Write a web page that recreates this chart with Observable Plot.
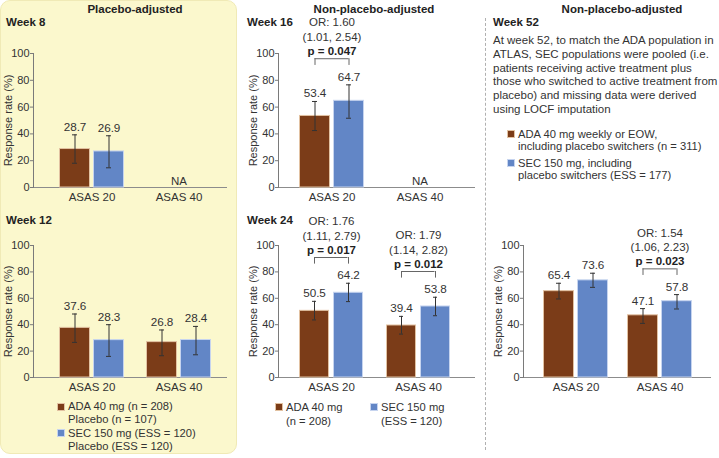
<!DOCTYPE html>
<html><head><meta charset="utf-8">
<script src="https://cdn.jsdelivr.net/npm/d3@7"></script>
<script src="https://cdn.jsdelivr.net/npm/@observablehq/plot@0.6"></script>
<style>
body{margin:0;background:#fff;font-family:"Liberation Sans",Arial,sans-serif;color:#333;}
#root{position:relative;width:719px;height:458px;overflow:hidden;}
.abs{position:absolute;white-space:nowrap;}
.hdr{font-weight:bold;font-size:11.5px;line-height:12px;text-align:center;color:#222;}
.wk{font-weight:bold;font-size:11.5px;line-height:12px;color:#222;}
.txt{font-size:11.5px;line-height:13.8px;color:#333;}
.leg{font-size:11.2px;color:#333;}
#yellow{position:absolute;left:0;top:0;width:237px;height:454px;background:#fbf8cd;border:1px solid #f0eab6;border-radius:10px;box-sizing:border-box;}
#dash{position:absolute;left:485px;top:18px;height:432px;border-left:1px dashed #b0b0b0;}
.panel{position:absolute;}
</style></head><body>
<div id="root">
  <div id="yellow"></div>
  <div id="dash"></div>
  <div class="abs hdr" style="left:35px;top:3px;width:200px;">Placebo-adjusted</div>
  <div class="abs hdr" style="left:274px;top:3px;width:200px;">Non-placebo-adjusted</div>
  <div class="abs hdr" style="left:522px;top:3px;width:200px;">Non-placebo-adjusted</div>
  <div class="abs wk" style="left:6px;top:16px;">Week 8</div>
  <div class="abs wk" style="left:6px;top:214px;">Week 12</div>
  <div class="abs wk" style="left:247px;top:16px;">Week 16</div>
  <div class="abs wk" style="left:247px;top:214px;">Week 24</div>
  <div class="abs wk" style="left:493px;top:16px;">Week 52</div>
  <div class="abs txt" style="left:493px;top:34px;">At week 52, to match the ADA population in<br>ATLAS, SEC populations were pooled (i.e.<br>patients receiving active treatment plus<br>those who switched to active treatment from<br>placebo) and missing data were derived<br>using LOCF imputation</div>
  <div id="pA" class="panel" style="left:0;top:0;"></div>
  <div id="pB" class="panel" style="left:0;top:192px;"></div>
  <div id="pC" class="panel" style="left:245px;top:0;"></div>
  <div id="pD" class="panel" style="left:245px;top:192px;"></div>
  <div id="pE" class="panel" style="left:490px;top:192px;"></div>
  <div id="legB"></div><div id="legD"></div><div id="legE"></div>
</div>
<script>
// ---------- data ----------
const groups = ["ASAS 20", "ASAS 40"];
const treatments = ["ADA", "SEC"];
const yTicks = [0, 20, 40, 60, 80, 100];
const yLabel = "Response rate (%)";
// [group, treatment, response rate, lower CI, upper CI]
const week8Rows = [
  ["ASAS 20", "ADA", 28.7, 18.1, 39.3],
  ["ASAS 20", "SEC", 26.9, 14.7, 38.6]
];
const week12Rows = [
  ["ASAS 20", "ADA", 37.6, 26.6, 48.1],
  ["ASAS 20", "SEC", 28.3, 16.0, 40.0],
  ["ASAS 40", "ADA", 26.8, 16.5, 36.0],
  ["ASAS 40", "SEC", 28.4, 17.2, 38.7]
];
const week16Rows = [
  ["ASAS 20", "ADA", 53.4, 42.5, 64.2],
  ["ASAS 20", "SEC", 64.7, 51.7, 76.6]
];
const week24Rows = [
  ["ASAS 20", "ADA", 50.5, 43.6, 57.7],
  ["ASAS 20", "SEC", 64.2, 57.5, 71.4],
  ["ASAS 40", "ADA", 39.4, 32.9, 46.3],
  ["ASAS 40", "SEC", 53.8, 46.8, 60.8]
];
const week52Rows = [
  ["ASAS 20", "ADA", 65.4, 59.5, 71.4],
  ["ASAS 20", "SEC", 73.6, 68.3, 79.0],
  ["ASAS 40", "ADA", 47.1, 41.0, 52.2],
  ["ASAS 40", "SEC", 57.8, 51.9, 62.8]
];
// [group, odds ratio, 95% CI, p value]
const week16Tests = [["ASAS 20", "OR: 1.60", "(1.01, 2.54)", "p = 0.047"]];
const week24Tests = [
  ["ASAS 20", "OR: 1.76", "(1.11, 2.79)", "p = 0.017"],
  ["ASAS 40", "OR: 1.79", "(1.14, 2.82)", "p = 0.012"]
];
const week52Tests = [["ASAS 40", "OR: 1.54", "(1.06, 2.23)", "p = 0.023"]];
const week8NA = ["ASAS 40"];
const week16NA = ["ASAS 40"];
const legendPlacebo = [
  ["ADA 40 mg (n = 208)", "Placebo (n = 107)"],
  ["SEC 150 mg (ESS = 120)", "Placebo (ESS = 120)"]
];
const legendWeek24 = [["ADA 40 mg", "(n = 208)"], ["SEC 150 mg", "(ESS = 120)"]];
const legendWeek52 = [
  ["ADA 40 mg weekly or EOW,", "including placebo switchers (n = 311)"],
  ["SEC 150 mg, including", "placebo switchers (ESS = 177)"]
];

// ---------- style ----------
const colors = ["#7b3c18", "#6286c6"];
const edges = ["#e2c2a2", "#c6d4ef"];
const BAR = 31, GAP = 3, BAND = 2 * BAR + GAP, OFF = (BAR + GAP) / 2, HALF = BAND / 2;
const FONT = "'Liberation Sans', Arial, sans-serif";

function panel(el, rows, tests, na, L) {
  const data = rows.map(([group, treatment, value, lo, hi]) => ({group, treatment, value, lo, hi}));
  const testData = tests.map(([group, or, ci, p]) => ({
    group, or, ci, p,
    level: d3.max(data.filter(d => d.group === group), d => d.hi) + 19.5
  }));
  const naData = na.map(group => ({group}));
  const step = L.c2 - L.c1;
  const marks = [
    Plot.ruleY([0], {stroke: "#8c8c8c"}),
    Plot.frame({anchor: "left", stroke: "#7a7a7a"}),
    Plot.axisY({ticks: yTicks, tickSize: 3, tickPadding: 1, stroke: "#7a7a7a", fill: "#333", fontSize: 11, label: null}),
    Plot.text([yLabel], {frameAnchor: "left", textAnchor: "middle", rotate: -90, dx: -25, text: d => d, fill: "#333", fontSize: 11}),
    Plot.axisX({tickSize: 0, tickPadding: 5, fill: "#333", fontSize: 11.5, label: null})
  ];
  treatments.forEach((t, k) => {
    const sub = data.filter(d => d.treatment === t);
    const dx = k === 0 ? -OFF : OFF;
    marks.push(
      Plot.barY(sub, {x: "group", y: "value", fill: colors[k], stroke: edges[k], strokeWidth: 1,
        insetLeft: k === 0 ? 0.5 : BAND - BAR + 0.5, insetRight: k === 0 ? BAND - BAR + 0.5 : 0.5}),
      Plot.ruleX(sub, {x: "group", y1: "lo", y2: "hi", dx, stroke: "#333"}),
      Plot.tickY(sub, {x: "group", y: "lo", dx, insetLeft: HALF - 2.5, insetRight: HALF - 2.5, stroke: "#333"}),
      Plot.tickY(sub, {x: "group", y: "hi", dx, insetLeft: HALF - 2.5, insetRight: HALF - 2.5, stroke: "#333"}),
      Plot.text(sub, {x: "group", y: "hi", dx, dy: -4, lineAnchor: "bottom", text: d => d.value.toFixed(1), fill: "#333", fontSize: 11.7})
    );
  });
  marks.push(
    Plot.ruleY(testData, {x1: "group", x2: "group", y: "level", insetLeft: HALF - OFF, insetRight: HALF - OFF, stroke: "#666"}),
    Plot.ruleX(testData, {x: "group", y1: "level", y2: d => d.level - 5, dx: -OFF, stroke: "#666"}),
    Plot.ruleX(testData, {x: "group", y1: "level", y2: d => d.level - 5, dx: OFF, stroke: "#666"}),
    Plot.text(testData, {x: "group", y: "level", text: "p", fontWeight: "bold", lineAnchor: "bottom", dy: -4, fill: "#222", fontSize: 11.5}),
    Plot.text(testData, {x: "group", y: "level", text: d => d.or + "\n" + d.ci, lineAnchor: "bottom", dy: -18, lineHeight: 1.24, fill: "#333", fontSize: 11.5}),
    Plot.text(naData, {x: "group", frameAnchor: "bottom", text: () => "NA", lineAnchor: "bottom", dy: -3, fill: "#333", fontSize: 11.5})
  );
  const svg = Plot.plot({
    width: 33 + L.W + L.mr,
    height: 53 + L.H + 22,
    marginLeft: 33, marginRight: L.mr, marginTop: 53, marginBottom: 22,
    style: {background: "transparent", overflow: "visible", fontFamily: FONT, fontSize: "11.5px", color: "#333"},
    x: {type: "band", domain: groups, paddingInner: (step - BAND) / step, paddingOuter: 0, align: 0.5,
        insetLeft: L.c1 - HALF, insetRight: L.W - (L.c2 + HALF)},
    y: {domain: [0, 100]},
    marks
  });
  document.getElementById(el).appendChild(svg);
}

panel("pA", week8Rows, [], week8NA, {W: 194, H: 134, c1: 58, c2: 145, mr: 11});
panel("pB", week12Rows, [], [], {W: 194, H: 132, c1: 58, c2: 145.3, mr: 11});
panel("pC", week16Rows, week16Tests, week16NA, {W: 197, H: 134, c1: 53, c2: 141, mr: 10});
panel("pD", week24Rows, week24Tests, [], {W: 197, H: 132, c1: 53, c2: 140.7, mr: 10});
panel("pE", week52Rows, week52Tests, [], {W: 188, H: 132, c1: 52, c2: 136, mr: 8});

// ---------- HTML legends ----------
function legend(id, items, opts) {
  const root = document.getElementById(id);
  items.forEach((lines, k) => {
    const top = opts.top + (opts.vertical ? k * opts.itemStep : 0);
    const left = opts.left + (opts.vertical ? 0 : k * opts.itemStep);
    const sw = document.createElement("div");
    sw.style.cssText = `position:absolute;left:${left}px;top:${top + 2.5}px;width:8px;height:8px;background:${colors[k]};border:0.5px solid ${edges[k]};box-sizing:border-box;`;
    root.appendChild(sw);
    const tx = document.createElement("div");
    tx.className = "abs leg";
    tx.style.cssText = `left:${left + 11}px;top:${top}px;line-height:${opts.lh}px;`;
    tx.innerHTML = lines.join("<br>");
    root.appendChild(tx);
  });
}
legend("legB", legendPlacebo, {left: 57, top: 400, vertical: true, itemStep: 26.6, lh: 13.3});
legend("legD", legendWeek24, {left: 275, top: 400, vertical: false, itemStep: 95, lh: 14});
legend("legE", legendWeek52, {left: 507, top: 127.5, vertical: true, itemStep: 29, lh: 12.6});
</script>
</body></html>
